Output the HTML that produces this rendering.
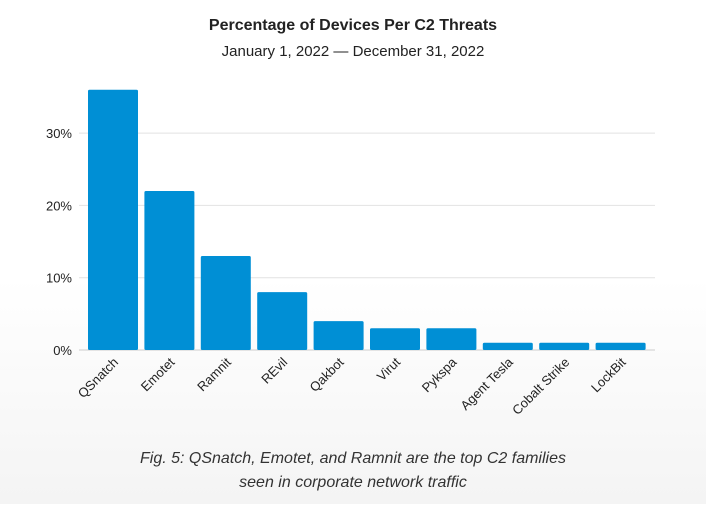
<!DOCTYPE html>
<html><head><meta charset="utf-8"><style>
html,body{margin:0;padding:0;}
body{width:706px;height:504px;overflow:hidden;background:linear-gradient(#fff 0%,#fff 55%,#f4f4f4 100%);font-family:"Liberation Sans",sans-serif;}
</style></head><body>
<svg width="706" height="504" xmlns="http://www.w3.org/2000/svg">
<text x="353" y="30" text-anchor="middle" font-size="16" font-weight="bold" fill="#222">Percentage of Devices Per C2 Threats</text>
<text x="353" y="56" text-anchor="middle" font-size="15" fill="#222">January 1, 2022 — December 31, 2022</text>
<g id="grid"></g><g id="bars"></g><g id="xl"></g>
<text x="353" y="463" text-anchor="middle" font-size="16" font-style="italic" fill="#333">Fig. 5: QSnatch, Emotet, and Ramnit are the top C2 families</text>
<text x="353" y="487" text-anchor="middle" font-size="16" font-style="italic" fill="#333">seen in corporate network traffic</text>
</svg>
<script>
const categories=["QSnatch","Emotet","Ramnit","REvil","Qakbot","Virut","Pykspa","Agent Tesla","Cobalt Strike","LockBit"];
const values=[36,22,13,8,4,3,3,1,1,1];
const ticks=[0,10,20,30];
const tickLabels=["0%","10%","20%","30%"];
const NS="http://www.w3.org/2000/svg";
const y0=350,pxPer=7.23,x0=85,step=56.4,bw=50;
const y=v=>y0-v*pxPer;
const g=document.getElementById('grid'),b=document.getElementById('bars'),xl=document.getElementById('xl');
function mk(t,a,p){const e=document.createElementNS(NS,t);for(const k in a)e.setAttribute(k,a[k]);p.appendChild(e);return e;}
ticks.forEach((t,i)=>{
 const l=mk('line',{x1:79,x2:655,y1:y(t),y2:y(t),stroke:t===0?'#ccc':'#e2e2e2','stroke-width':1},g);
 
 
 const tx=mk('text',{x:72,y:y(t)+5,'text-anchor':'end','font-size':13,fill:'#222'},g);
 tx.textContent=tickLabels[i];
 
 
});
categories.forEach((c,i)=>{
 const x=x0+3+i*step;
 const r=mk('rect',{x:x,y:y(values[i]),width:bw,height:values[i]*pxPer,fill:'#008fd5',rx:1.5},b);
 
 
 const cx=x+bw/2+6,cy=363;
 const t=mk('text',{x:cx,y:cy,'text-anchor':'end','font-size':13,fill:'#222',transform:`rotate(-45 ${cx} ${cy})`},xl);
 t.textContent=c;
 
 
});
</script>
</body></html>
